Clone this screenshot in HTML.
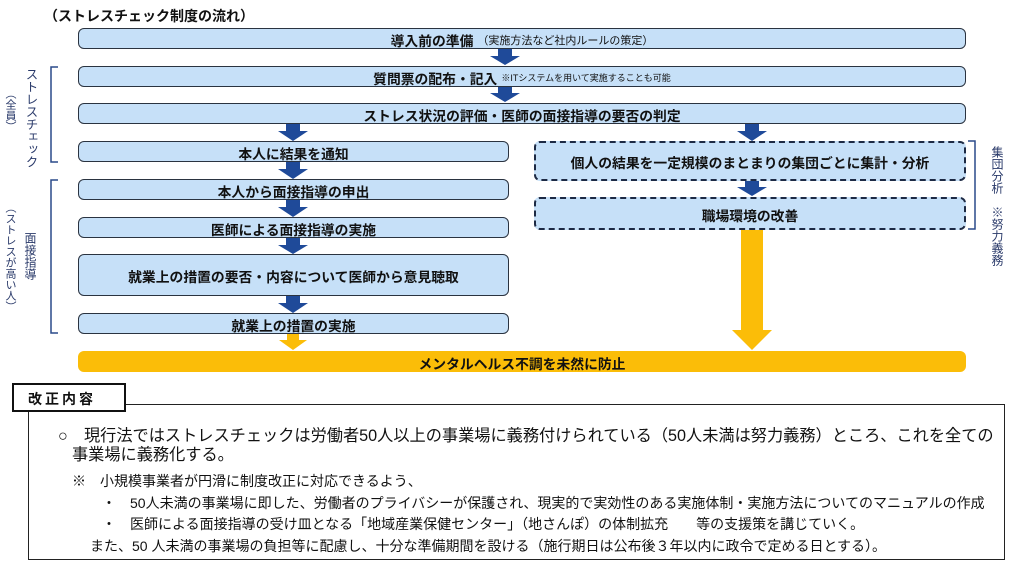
<!DOCTYPE html>
<html><head><meta charset="utf-8"><style>
body{margin:0;width:1013px;height:562px;background:#fff;position:relative;overflow:hidden;font-family:"Liberation Sans","Noto Sans CJK JP",sans-serif;color:#111}
.b{position:absolute;background:#c6e0f8;border:1.5px solid #2a3340;border-radius:6px;box-sizing:border-box;display:flex;align-items:center;justify-content:center;font-weight:bold;font-size:13.8px;color:#111;white-space:nowrap;padding-top:2px}
.d{border:2px dashed #1d2a44}
.s{font-weight:normal;font-size:9px;margin-left:4px}
.s2{font-weight:normal;font-size:11px;margin-left:4px}
.v{position:absolute;writing-mode:vertical-rl;font-size:12px;color:#2a3a6a;line-height:1}
.t{position:absolute;font-size:14px;white-space:nowrap;color:#111}
</style></head><body>
<div class="t" style="left:44px;top:6px;font-weight:bold;font-size:14px">（ストレスチェック制度の流れ）</div>

<svg style="position:absolute;left:0;top:0" width="1013" height="562">
<g fill="#1f4a99">
<polygon points="498,48 512,48 512,56 520,56 505,65 490,56 498,56"/>
<polygon points="498,86 512,86 512,93 520,93 505,102 490,93 498,93"/>
<polygon points="286,124 300,124 300,131 308,131 293,141 278,131 286,131"/>
<polygon points="745,124 759,124 759,131 767,131 752,141 737,131 745,131"/>
<polygon points="286,162 300,162 300,169 308,169 293,179 278,169 286,169"/>
<polygon points="745,180 759,180 759,187 767,187 752,196 737,187 745,187"/>
<polygon points="286,199 300,199 300,207 308,207 293,217 278,207 286,207"/>
<polygon points="286,237 300,237 300,245 308,245 293,254 278,245 286,245"/>
<polygon points="286,295 300,295 300,303 308,303 293,313 278,303 286,303"/>
</g>
<g fill="#fbbd08">
<polygon points="287,333 299,333 299,340 307,340 293,350 279,340 287,340"/>
<polygon points="741,229 763,229 763,330 772,330 752,350 732,330 741,330"/>
</g>
<g fill="none" stroke="#2a4a8a" stroke-width="1.5">
<polyline points="58,67 51,67 51,162 58,162"/>
<polyline points="58,180 51,180 51,333 58,333"/>
<polyline points="968,141 975,141 975,229 968,229"/>
</g>
</svg>

<div class="b" style="left:78px;top:28px;width:888px;height:21px">導入前の準備<span class="s2">（実施方法など社内ルールの策定）</span></div>
<div class="b" style="left:78px;top:66px;width:888px;height:21px">質問票の配布・記入<span class="s">※ITシステムを用いて実施することも可能</span></div>
<div class="b" style="left:78px;top:103px;width:888px;height:21px">ストレス状況の評価・医師の面接指導の要否の判定</div>
<div class="b" style="left:78px;top:141px;width:431px;height:21px">本人に結果を通知</div>
<div class="b" style="left:78px;top:179px;width:431px;height:21px">本人から面接指導の申出</div>
<div class="b" style="left:78px;top:217px;width:431px;height:21px">医師による面接指導の実施</div>
<div class="b" style="left:78px;top:254px;width:431px;height:42px">就業上の措置の要否・内容について医師から意見聴取</div>
<div class="b" style="left:78px;top:313px;width:431px;height:21px">就業上の措置の実施</div>
<div class="b d" style="left:534px;top:141px;width:432px;height:40px">個人の結果を一定規模のまとまりの集団ごとに集計・分析</div>
<div class="b d" style="left:534px;top:197px;width:432px;height:33px">職場環境の改善</div>
<div class="b" style="left:78px;top:351px;width:888px;height:21px;background:#fbbd08;border:none">メンタルヘルス不調を未然に防止</div>

<div class="v" style="left:24px;top:68px;font-size:12.5px">ストレスチェック</div>
<div class="v" style="left:4px;top:88px;font-size:11px">（全員）</div>
<div class="v" style="left:24px;top:232px">面接指導</div>
<div class="v" style="left:4px;top:202px;font-size:11px">（ストレスが高い人）</div>
<div class="v" style="left:991px;top:146px">集団分析　※努力義務</div>

<div style="position:absolute;left:28px;top:404px;width:977px;height:156px;border:1.5px solid #222;box-sizing:border-box"></div>
<div style="position:absolute;left:12px;top:383px;width:114px;height:29px;border:2.5px solid #111;background:#fff;box-sizing:border-box;font-weight:bold;font-size:14px;letter-spacing:3px;padding:4px 0 0 14px">改正内容</div>
<div class="t" style="left:58px;top:422px;font-size:16.2px">○　現行法ではストレスチェックは労働者50人以上の事業場に義務付けられている（50人未満は努力義務）ところ、これを全ての</div>
<div class="t" style="left:72px;top:441px;font-size:16.2px">事業場に義務化する。</div>
<div class="t" style="left:72px;top:471px">※　小規模事業者が円滑に制度改正に対応できるよう、</div>
<div class="t" style="left:102px;top:493px">・　50人未満の事業場に即した、労働者のプライバシーが保護され、現実的で実効性のある実施体制・実施方法についてのマニュアルの作成</div>
<div class="t" style="left:102px;top:514px">・　医師による面接指導の受け皿となる「地域産業保健センター」（地さんぽ）の体制拡充　　等の支援策を講じていく。</div>
<div class="t" style="left:90px;top:536px">また、50 人未満の事業場の負担等に配慮し、十分な準備期間を設ける（施行期日は公布後３年以内に政令で定める日とする）。</div>
</body></html>
